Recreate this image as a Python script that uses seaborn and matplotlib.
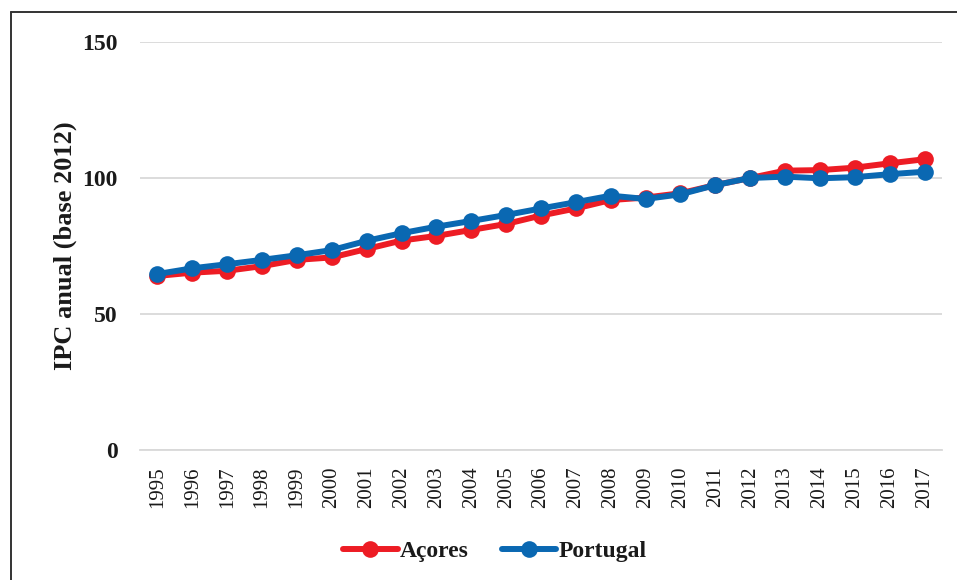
import pandas as pd
import matplotlib.pyplot as plt
import seaborn as sns
from matplotlib.lines import Line2D

years = list(range(1995, 2018))
acores = [64.0, 65.2, 65.9, 67.6, 69.9, 70.8, 73.9, 77.0, 78.7, 80.9, 83.1, 86.2,
          88.8, 91.9, 92.8, 94.4, 97.4, 100.0, 102.7, 102.9, 103.8, 105.4, 106.9]
portugal = [64.7, 66.8, 68.3, 69.9, 71.6, 73.5, 76.9, 79.7, 82.1, 84.2, 86.4, 88.8,
            91.1, 93.5, 92.3, 94.0, 97.4, 100.0, 100.5, 99.9, 100.3, 101.4, 102.3]
series_names = ['Açores', 'Portugal']
colors = ['#ED1C24', '#0A68B2']

df = pd.DataFrame({'ano': years * 2,
                   'ipc': acores + portugal,
                   'serie': [series_names[0]] * len(years) + [series_names[1]] * len(years)})

sns.set_style('white')
plt.rcParams['font.family'] = ['Liberation Serif', 'DejaVu Serif']

fig = plt.figure(figsize=(9.57, 5.8), dpi=100)
ax = fig.add_axes([140 / 957, 1 - 450 / 580, 802 / 957, 408 / 580])

sns.lineplot(data=df, x='ano', y='ipc', hue='serie', palette=colors, marker='o',
             linewidth=4.3, markersize=12, markeredgewidth=0, ax=ax)

ax.set_xlim(1994.5, 2017.5)
ax.set_ylim(0, 150)
ax.set_yticks([0, 50, 100, 150])
ax.set_xticks(years)
ax.set_xticklabels([str(y) for y in years], rotation=90, fontsize=15)
for lab in ax.get_yticklabels():
    lab.set_fontweight('bold')
    lab.set_fontsize(17)
ax.tick_params(axis='y', length=0, pad=16, colors='#1a1a1a')
ax.tick_params(axis='x', length=0, pad=12, colors='#1a1a1a')
ax.yaxis.grid(True, color='#d9d9d9', linewidth=1.3)
ax.set_axisbelow(True)
for s in ['top', 'right', 'left']:
    ax.spines[s].set_visible(False)
ax.spines['bottom'].set_color('#d9d9d9')
ax.spines['bottom'].set_linewidth(1.3)

ax.set_xlabel('')
ax.set_ylabel('IPC anual (base 2012)', fontsize=19, fontweight='bold', color='#1a1a1a')
ax.yaxis.set_label_coords(-0.078, 0.5)

handles, labels = ax.get_legend_handles_labels()
leg = fig.legend(handles, labels, loc='center', bbox_to_anchor=(495 / 957, 1 - 551 / 580),
                 ncol=2, frameon=False, handlelength=2.3, handletextpad=0.1,
                 columnspacing=1.4, prop={'weight': 'bold', 'size': 17})
for t in leg.get_texts():
    t.set_color('#1a1a1a')
ax.get_legend().remove()

# moldura do gráfico (cortada à direita e em baixo)
fig.add_artist(Line2D([11 / 957, 11 / 957], [0, 1 - 12 / 580], color='#333333', linewidth=1.4))
fig.add_artist(Line2D([11 / 957, 1], [1 - 12 / 580, 1 - 12 / 580], color='#333333', linewidth=1.4))

fig.savefig('out.png', dpi=100)
